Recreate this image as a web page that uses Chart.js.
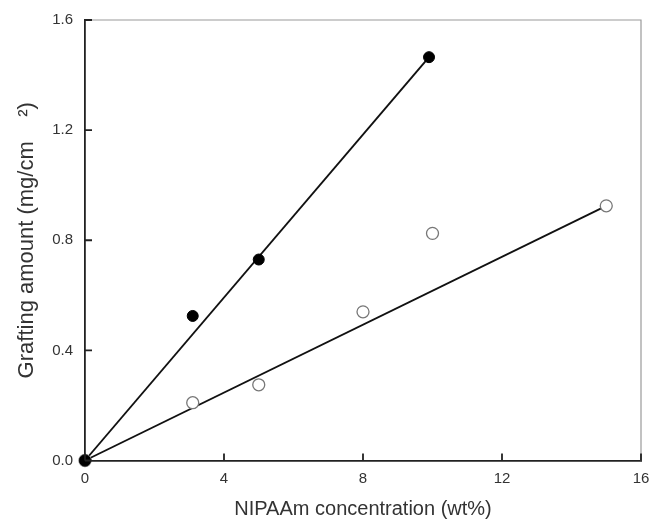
<!DOCTYPE html>
<html>
<head>
<meta charset="utf-8">
<script src="https://cdn.jsdelivr.net/npm/chart.js@4"></script>
<style>
html,body{margin:0;padding:0;background:#fff;}
#wrap{width:650px;height:521px;position:relative;}
</style>
</head>
<body>
<div id="wrap"><canvas id="c" width="650" height="521"></canvas></div>
<script>
// Data
const filledX = [0, 3.1, 5, 9.9];
const filledY = [0, 0.525, 0.73, 1.465];
const openX = [0, 3.1, 5, 8, 10, 15];
const openY = [0, 0.21, 0.275, 0.54, 0.825, 0.925];
const fitFilledX = [0, 9.9];
const fitFilledY = [0, 1.465];
const fitOpenX = [0, 15];
const fitOpenY = [0, 0.925];
const xTicks = [0, 4, 8, 12, 16];
const yTicks = [0.0, 0.4, 0.8, 1.2, 1.6];

const pts = (xs, ys) => xs.map((x, i) => ({x: x, y: ys[i]}));

const frame = {
  id: 'frame',
  afterDatasetsDraw(chart) {
    const {ctx, chartArea: a, scales: {x, y}} = chart;
    ctx.save();
    ctx.strokeStyle = '#9a9a9a';
    ctx.lineWidth = 1.2;
    ctx.beginPath();
    ctx.moveTo(a.left, a.top); ctx.lineTo(a.right, a.top); ctx.lineTo(a.right, a.bottom);
    ctx.stroke();
    ctx.strokeStyle = '#222';
    ctx.lineWidth = 1.8;
    ctx.beginPath();
    xTicks.forEach(v => { const px = x.getPixelForValue(v); ctx.moveTo(px, a.bottom); ctx.lineTo(px, a.bottom - 7); });
    yTicks.forEach(v => { const py = y.getPixelForValue(v); ctx.moveTo(a.left, py); ctx.lineTo(a.left + 7, py); });
    ctx.stroke();
    ctx.restore();
  }
};

new Chart(document.getElementById('c'), {
  type: 'scatter',
  data: {
    datasets: [
      {data: pts(fitFilledX, fitFilledY), showLine: true, borderColor: '#111', borderWidth: 1.9, pointRadius: 0, order: 3, clip: false},
      {data: pts(fitOpenX, fitOpenY), showLine: true, borderColor: '#111', borderWidth: 1.9, pointRadius: 0, order: 3, clip: false},
      {data: pts(openX, openY), showLine: false, pointRadius: 6, pointBackgroundColor: '#fff', pointBorderColor: '#777', pointBorderWidth: 1.3, order: 2, clip: false},
      {data: pts(filledX, filledY), showLine: false, pointRadius: 5.5, pointBackgroundColor: '#000', pointBorderColor: '#000', pointBorderWidth: 1, order: 1, clip: false}
    ]
  },
  options: {
    responsive: false,
    animation: false,
    layout: {padding: {left: 0, top: 20, right: 9, bottom: 0}},
    plugins: {legend: {display: false}, tooltip: {enabled: false}},
    scales: {
      x: {
        type: 'linear', min: 0, max: 16,
        afterBuildTicks: s => { s.ticks = xTicks.map(v => ({value: v})); },
        afterFit: s => { s.height = 60.5; s.paddingLeft = 0; s.paddingRight = 0; },
        grid: {display: false, drawTicks: false},
        border: {display: true, color: '#222', width: 1.8},
        ticks: {color: '#333', font: {family: 'Liberation Sans', size: 15}, padding: 9, callback: v => String(v)},
        title: {display: true, text: 'NIPAAm concentration (wt%)', color: '#333', font: {family: 'Liberation Sans', size: 20}, padding: {top: 0, bottom: 0}}
      },
      y: {
        type: 'linear', min: 0, max: 1.6,
        afterBuildTicks: s => { s.ticks = yTicks.map(v => ({value: v})); },
        afterFit: s => { s.width = 85; s.paddingTop = 0; s.paddingBottom = 0; },
        grid: {display: false, drawTicks: false},
        border: {display: true, color: '#222', width: 1.8},
        ticks: {color: '#333', font: {family: 'Liberation Sans', size: 15}, padding: 12, callback: v => v.toFixed(1)},
        title: {display: true, text: 'Grafting amount (mg/cm    ²)', color: '#333', font: {family: 'Liberation Sans', size: 22}, padding: {top: 14, bottom: 0}}
      }
    }
  },
  plugins: [frame]
});
</script>
</body>
</html>
